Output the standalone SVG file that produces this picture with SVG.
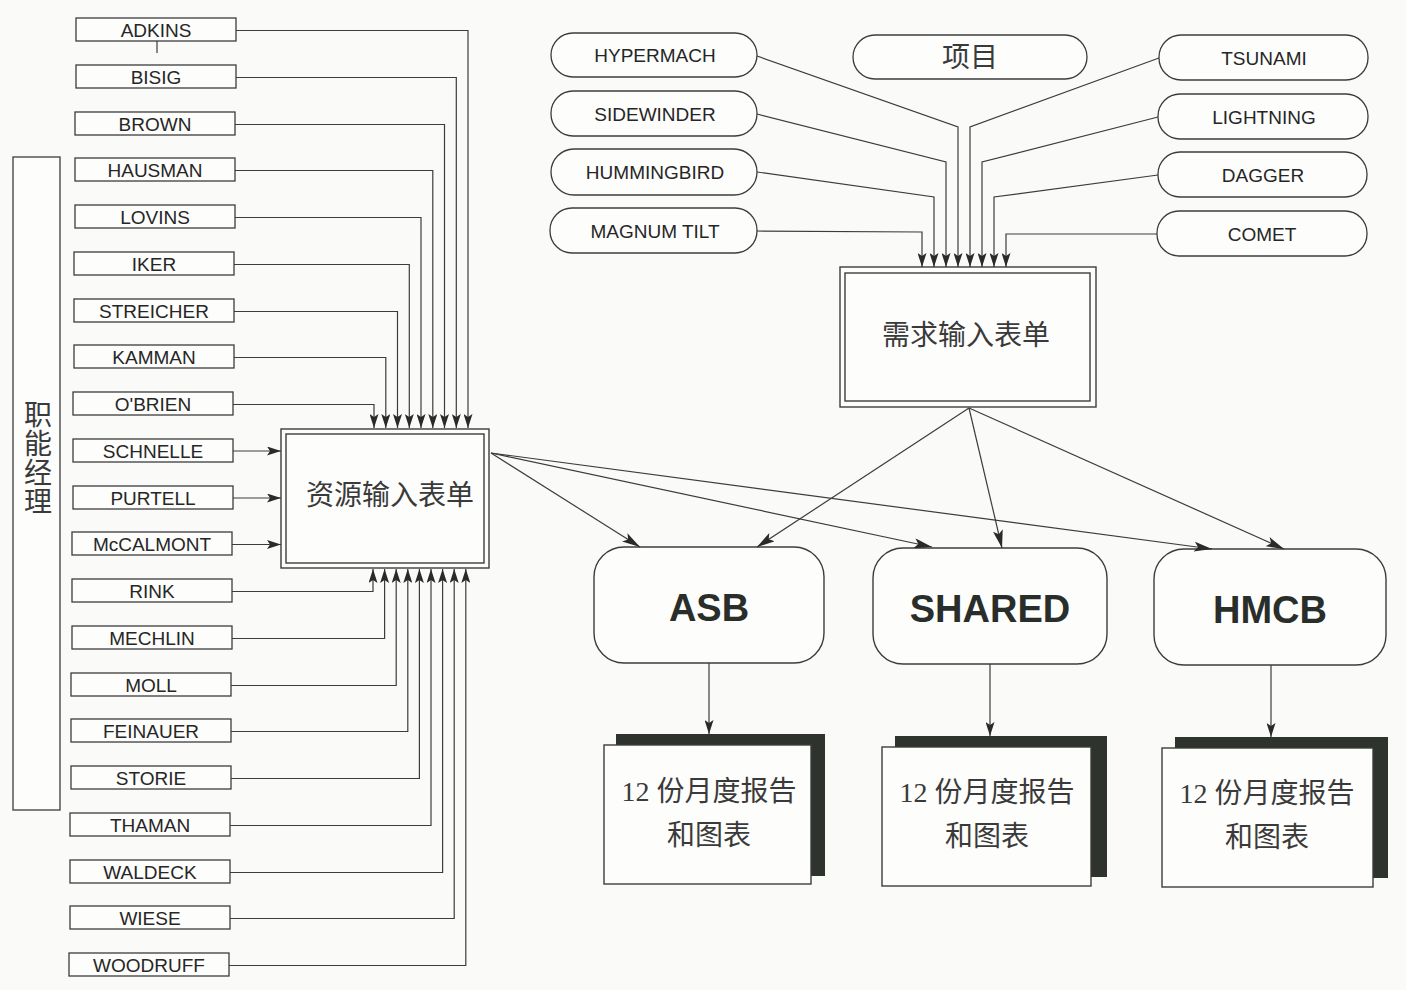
<svg xmlns="http://www.w3.org/2000/svg" width="1406" height="990" viewBox="0 0 1406 990">
<style>
.bg{fill:#fafaf8}
.nb{fill:#fdfdfc;stroke:#3c3c3c;stroke-width:1.3}
.nt{font-family:"Liberation Sans",Arial,sans-serif;font-size:19px;fill:#262626;text-anchor:middle}
.pill{fill:#fdfdfc;stroke:#3c3c3c;stroke-width:1.3}
.cj{font-family:"Liberation Serif","Noto Sans CJK SC",serif;font-size:28px;fill:#3a3a3a;text-anchor:middle}
.big{font-family:"Liberation Sans",Arial,sans-serif;font-size:38px;font-weight:bold;fill:#2a2e2a;text-anchor:middle}
.frm{fill:#fdfdfc;stroke:#3c3c3c;stroke-width:1.4}
.frmi{fill:none;stroke:#3c3c3c;stroke-width:1.4}
.rb{fill:#fdfdfc;stroke:#3c3c3c;stroke-width:1.4}
.back{fill:#2e332e}
.front{fill:#fdfdfc;stroke:#3c3c3c;stroke-width:1.4}
.c{fill:none;stroke:#3c3c3c;stroke-width:1.2}
</style>
<defs>
<marker id="arr" markerUnits="userSpaceOnUse" viewBox="0 0 14 9" markerWidth="14" markerHeight="9" refX="14" refY="4.5" orient="auto">
<path d="M0,0 L14,4.5 L0,9 L3,4.5 Z" fill="#2a2a2a"/>
</marker>
<marker id="arrL" markerUnits="userSpaceOnUse" viewBox="0 0 18 10" markerWidth="18" markerHeight="10" refX="18" refY="5" orient="auto">
<path d="M0,0 L18,5 L0,10 L4,5 Z" fill="#2a2a2a"/>
</marker>
</defs>
<rect class="bg" x="0" y="0" width="1406" height="990"/>

<g id="functional-managers">
<rect class="nb" x="13" y="157" width="47" height="653"/>
<text class="cj" x="38" y="425">职</text>
<text class="cj" x="38" y="454">能</text>
<text class="cj" x="38" y="483">经</text>
<text class="cj" x="38" y="512">理</text>
</g>

<g id="n-adkins"><rect class="nb" x="76" y="18" width="160" height="23"/><text class="nt" x="156" y="36.5">ADKINS</text></g>
<g id="n-bisig"><rect class="nb" x="76" y="65" width="160" height="23"/><text class="nt" x="156" y="83.5">BISIG</text></g>
<g id="n-brown"><rect class="nb" x="75" y="112" width="160" height="23"/><text class="nt" x="155" y="130.5">BROWN</text></g>
<g id="n-hausman"><rect class="nb" x="75" y="158" width="160" height="23"/><text class="nt" x="155" y="176.5">HAUSMAN</text></g>
<g id="n-lovins"><rect class="nb" x="75" y="205" width="160" height="23"/><text class="nt" x="155" y="223.5">LOVINS</text></g>
<g id="n-iker"><rect class="nb" x="74" y="252" width="160" height="23"/><text class="nt" x="154" y="270.5">IKER</text></g>
<g id="n-streicher"><rect class="nb" x="74" y="299" width="160" height="23"/><text class="nt" x="154" y="317.5">STREICHER</text></g>
<g id="n-kamman"><rect class="nb" x="74" y="345" width="160" height="23"/><text class="nt" x="154" y="363.5">KAMMAN</text></g>
<g id="n-obrien"><rect class="nb" x="73" y="392" width="160" height="23"/><text class="nt" x="153" y="410.5">O'BRIEN</text></g>
<g id="n-schnelle"><rect class="nb" x="73" y="439" width="160" height="23"/><text class="nt" x="153" y="457.5">SCHNELLE</text></g>
<g id="n-purtell"><rect class="nb" x="73" y="486" width="160" height="23"/><text class="nt" x="153" y="504.5">PURTELL</text></g>
<g id="n-mccalmont"><rect class="nb" x="72" y="532" width="160" height="23"/><text class="nt" x="152" y="550.5">McCALMONT</text></g>
<g id="n-rink"><rect class="nb" x="72" y="579" width="160" height="23"/><text class="nt" x="152" y="597.5">RINK</text></g>
<g id="n-mechlin"><rect class="nb" x="72" y="626" width="160" height="23"/><text class="nt" x="152" y="644.5">MECHLIN</text></g>
<g id="n-moll"><rect class="nb" x="71" y="673" width="160" height="23"/><text class="nt" x="151" y="691.5">MOLL</text></g>
<g id="n-feinauer"><rect class="nb" x="71" y="719" width="160" height="23"/><text class="nt" x="151" y="737.5">FEINAUER</text></g>
<g id="n-storie"><rect class="nb" x="71" y="766" width="160" height="23"/><text class="nt" x="151" y="784.5">STORIE</text></g>
<g id="n-thaman"><rect class="nb" x="70" y="813" width="160" height="23"/><text class="nt" x="150" y="831.5">THAMAN</text></g>
<g id="n-waldeck"><rect class="nb" x="70" y="860" width="160" height="23"/><text class="nt" x="150" y="878.5">WALDECK</text></g>
<g id="n-wiese"><rect class="nb" x="70" y="906" width="160" height="23"/><text class="nt" x="150" y="924.5">WIESE</text></g>
<g id="n-woodruff"><rect class="nb" x="69" y="953" width="160" height="23"/><text class="nt" x="149" y="971.5">WOODRUFF</text></g>

<g id="resource-form">
<rect class="frm" x="281" y="429" width="208" height="139"/>
<rect class="frmi" x="286" y="434" width="198" height="129"/>
<text class="cj" x="390" y="505">资源输入表单</text>
</g>

<g id="p-hypermach"><rect class="pill" x="551" y="33" width="206" height="44" rx="22"/><text class="nt" x="655" y="62">HYPERMACH</text></g>
<g id="p-sidewinder"><rect class="pill" x="551" y="91" width="206" height="45" rx="22"/><text class="nt" x="655" y="120.5">SIDEWINDER</text></g>
<g id="p-hummingbird"><rect class="pill" x="551" y="149" width="206" height="46" rx="23"/><text class="nt" x="655" y="179">HUMMINGBIRD</text></g>
<g id="p-magnumtilt"><rect class="pill" x="550" y="208" width="207" height="45" rx="22"/><text class="nt" x="655" y="238">MAGNUM TILT</text></g>
<g id="p-project"><rect class="pill" x="853" y="35" width="234" height="44" rx="22"/><text class="cj" x="970" y="67">项目</text></g>
<g id="p-tsunami"><rect class="pill" x="1159" y="35" width="209" height="45" rx="22"/><text class="nt" x="1264" y="65">TSUNAMI</text></g>
<g id="p-lightning"><rect class="pill" x="1158" y="94" width="210" height="45" rx="22"/><text class="nt" x="1264" y="124">LIGHTNING</text></g>
<g id="p-dagger"><rect class="pill" x="1158" y="152" width="209" height="45" rx="22"/><text class="nt" x="1263" y="182">DAGGER</text></g>
<g id="p-comet"><rect class="pill" x="1157" y="211" width="210" height="45" rx="22"/><text class="nt" x="1262" y="241">COMET</text></g>

<g id="demand-form">
<rect class="frm" x="840" y="267" width="256" height="140"/>
<rect class="frmi" x="845" y="273" width="245" height="128"/>
<text class="cj" x="966" y="345">需求输入表单</text>
</g>

<g id="asb"><rect class="rb" x="594" y="547" width="230" height="116" rx="30"/><text class="big" x="709" y="621">ASB</text></g>
<g id="shared"><rect class="rb" x="873" y="548" width="234" height="116" rx="30"/><text class="big" x="990" y="622">SHARED</text></g>
<g id="hmcb"><rect class="rb" x="1154" y="549" width="232" height="116" rx="30"/><text class="big" x="1270" y="623">HMCB</text></g>

<g id="report-asb">
<rect class="back" x="616" y="734" width="209" height="142"/>
<rect class="front" x="604" y="745" width="207" height="139"/>
<text class="cj" x="709" y="801">12 份月度报告</text>
<text class="cj" x="709" y="845">和图表</text>
</g>
<g id="report-shared">
<rect class="back" x="895" y="736" width="212" height="141"/>
<rect class="front" x="882" y="747" width="209" height="139"/>
<text class="cj" x="987" y="802">12 份月度报告</text>
<text class="cj" x="987" y="846">和图表</text>
</g>
<g id="report-hmcb">
<rect class="back" x="1175" y="737" width="213" height="141"/>
<rect class="front" x="1162" y="748" width="211" height="139"/>
<text class="cj" x="1267" y="803">12 份月度报告</text>
<text class="cj" x="1267" y="847">和图表</text>
</g>

<g id="connectors">
<path class="c" d="M157,41 V53"/>
<path class="c" marker-end="url(#arr)" d="M236,30.5 H468 V428"/>
<path class="c" marker-end="url(#arr)" d="M236,77.5 H456.3 V428"/>
<path class="c" marker-end="url(#arr)" d="M235,124.5 H444.5 V428"/>
<path class="c" marker-end="url(#arr)" d="M235,170.5 H432.8 V428"/>
<path class="c" marker-end="url(#arr)" d="M235,217.5 H421 V428"/>
<path class="c" marker-end="url(#arr)" d="M234,264.5 H409.3 V428"/>
<path class="c" marker-end="url(#arr)" d="M234,311.5 H397.5 V428"/>
<path class="c" marker-end="url(#arr)" d="M234,357.5 H385.8 V428"/>
<path class="c" marker-end="url(#arr)" d="M233,404.5 H374 V428"/>
<path class="c" marker-end="url(#arr)" d="M233,451 H281"/>
<path class="c" marker-end="url(#arr)" d="M233,498 H281"/>
<path class="c" marker-end="url(#arr)" d="M232,544.5 H281"/>
<path class="c" marker-end="url(#arr)" d="M232,591.5 H373 V569"/>
<path class="c" marker-end="url(#arr)" d="M232,638.5 H384.6 V569"/>
<path class="c" marker-end="url(#arr)" d="M231,685.5 H396.2 V569"/>
<path class="c" marker-end="url(#arr)" d="M231,731.5 H407.8 V569"/>
<path class="c" marker-end="url(#arr)" d="M231,778.5 H419.4 V569"/>
<path class="c" marker-end="url(#arr)" d="M230,825.5 H431 V569"/>
<path class="c" marker-end="url(#arr)" d="M230,872.5 H442.6 V569"/>
<path class="c" marker-end="url(#arr)" d="M230,918.5 H454.2 V569"/>
<path class="c" marker-end="url(#arr)" d="M229,965.5 H465.8 V569"/>

<path class="c" marker-end="url(#arr)" d="M757,56 L958,127 V267"/>
<path class="c" marker-end="url(#arr)" d="M757,114 L946,162 V267"/>
<path class="c" marker-end="url(#arr)" d="M757,172 L934,197 V267"/>
<path class="c" marker-end="url(#arr)" d="M757,231 L922,232 V267"/>
<path class="c" marker-end="url(#arr)" d="M1159,58 L970,127 V267"/>
<path class="c" marker-end="url(#arr)" d="M1158,117 L982,162 V267"/>
<path class="c" marker-end="url(#arr)" d="M1158,175 L994,197 V267"/>
<path class="c" marker-end="url(#arr)" d="M1157,234 L1006,234 V267"/>

<path class="c" marker-end="url(#arrL)" d="M491,453 L640,547"/>
<path class="c" marker-end="url(#arrL)" d="M491,453 L932,547"/>
<path class="c" marker-end="url(#arrL)" d="M491,453 L1212,549"/>
<path class="c" marker-end="url(#arrL)" d="M969,408 L757,547"/>
<path class="c" marker-end="url(#arrL)" d="M969,408 L1002,548"/>
<path class="c" marker-end="url(#arrL)" d="M969,408 L1284,549"/>

<path class="c" marker-end="url(#arr)" d="M709,663 V734"/>
<path class="c" marker-end="url(#arr)" d="M990,664 V736"/>
<path class="c" marker-end="url(#arr)" d="M1271,665 V737"/>
</g>
</svg>
